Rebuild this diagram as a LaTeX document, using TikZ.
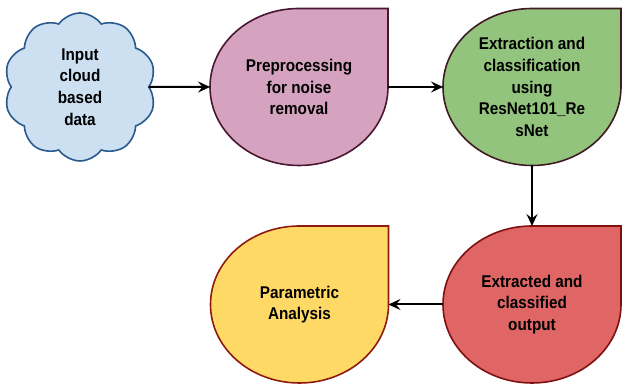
\documentclass[tikz,border=0pt]{standalone}
\usepackage{fontspec}
\setmainfont{Liberation Sans}[FakeStretch=0.9]
\usetikzlibrary{shapes.geometric,shapes.symbols,arrows.meta,backgrounds}

\definecolor{wolkefill}{HTML}{CCE0F2}
\definecolor{wolkerand}{HTML}{2A5B8C}
\definecolor{pinkfill}{HTML}{D5A3C0}
\definecolor{pinkrand}{HTML}{4A1731}
\definecolor{gruenfill}{HTML}{93C47D}
\definecolor{gruenrand}{HTML}{3F1B22}
\definecolor{rotfill}{HTML}{E06666}
\definecolor{rotrand}{HTML}{7F1010}
\definecolor{gelbfill}{HTML}{FFD966}
\definecolor{gelbrand}{HTML}{8E1B0E}

% Tropfenform: Name, Fuellfarbe, Randfarbe
\newcommand{\tropfen}[3]{%
  \begin{scope}[on background layer]
    \draw[#3, fill=#2, line width=1.6pt] (#1.north)
      arc[start angle=90, end angle=360, x radius=89pt, y radius=78.5pt]
      -- (#1.east |- #1.north) -- cycle;
  \end{scope}}

\begin{document}
\begin{tikzpicture}[x=1pt, y=1pt,
    >={Stealth[length=12pt, width=11pt, inset=4.5pt]},   %Voreinstellung fuer Pfeilspitzen
    font=\bfseries\fontsize{17}{21.7}\selectfont,
    tropf/.style={ellipse, inner sep=0pt, outer sep=0pt, minimum width=178pt,
      minimum height=157pt, align=center},
    pfeil/.style={->, line width=2pt}]
    \useasboundingbox (0,0) rectangle (622,387);
    % Knoten setzen
    \node[cloud, cloud puffs=10, cloud puff arc=110, aspect=1, draw=wolkerand, fill=wolkefill,
      line width=1.6pt, minimum width=152pt, minimum height=148pt, inner sep=2pt,
      outer sep=0pt, align=center]
      (wolke) at (80,300) {Input\\cloud\\based\\data};
    \node[tropf] (vorverarb) at (299,300) {Preprocessing\\for noise\\removal};
    \node[tropf] (klassif) at (532,300) {Extraction and\\classification\\using\\ResNet101\_Re\\sNet};
    \node[tropf] (ausgabe) at (532,82.5) {Extracted and\\classified\\output};
    \node[tropf] (analyse) at (299.5,82.5) {Parametric\\Analysis};
    % Tropfen zeichnen
    \tropfen{vorverarb}{pinkfill}{pinkrand}
    \tropfen{klassif}{gruenfill}{gruenrand}
    \tropfen{ausgabe}{rotfill}{rotrand}
    \tropfen{analyse}{gelbfill}{gelbrand}
    % Pfeile
    \draw[pfeil] (wolke.east) -- (vorverarb.west);
    \draw[pfeil] (vorverarb.east) -- (klassif.west);
    \draw[pfeil] (klassif.south) -- (ausgabe.north);
    \draw[pfeil] (ausgabe.west) -- (analyse.east);
\end{tikzpicture}
\end{document}
